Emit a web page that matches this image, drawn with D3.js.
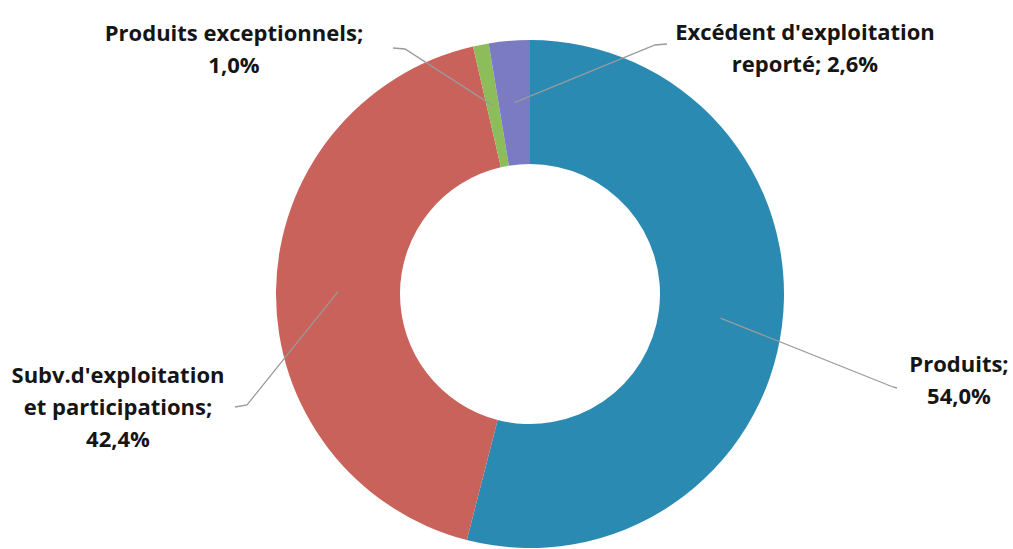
<!DOCTYPE html>
<html lang="fr">
<head>
<meta charset="utf-8">
<title>produits</title>
<script src="https://cdn.jsdelivr.net/npm/d3@7"></script>
<style>
  body{margin:0;background:#fff;}
  text{font-family:"Open Sans",sans-serif;font-weight:bold;fill:#151515;}
</style>
</head>
<body>
<div id="chart"></div>
<script>
// data, clockwise from 12 o'clock
var names = ["Produits", "Subv.d'exploitation et participations", "Produits exceptionnels", "Excédent d'exploitation reporté"]
var values = [54.0, 42.4, 1.0, 2.6]
var valueLabels = ["54,0%", "42,4%", "1,0%", "2,6%"]
var labelLines = [
  ["Produits;", "54,0%"],
  ["Subv.d'exploitation", "et participations;", "42,4%"],
  ["Produits exceptionnels;", "1,0%"],
  ["Excédent d'exploitation", "reporté; 2,6%"]
]
var colors = ["#2a8ab2", "#c9625b", "#8dbd5a", "#7b7bc3"]

var w = 1013, h = 549
var cx = 530, cy = 294
var outerR = 254, innerR = 130

// label layout: text centre x, first baseline y, and leader start / elbow
var labelPos = [
  {x:959, y:372, start:[897,388], elbow:[893,387]},
  {x:118, y:383, start:[235,407], elbow:[247,405]},
  {x:234, y:41, start:[393,48], elbow:[405,49]},
  {x:805, y:40, start:[667,44], elbow:[655,45]}
]

var svg = d3.select("#chart").append("svg").attr("width", w).attr("height", h)
var g = svg.append("g").attr("transform", "translate(" + cx + "," + cy + ")")

var pie = d3.pie().sort(null).value(function(d){ return d })
var arcs = pie(values)
var arc = d3.arc().innerRadius(innerR).outerRadius(outerR)
var mid = d3.arc().innerRadius(192).outerRadius(192)

g.selectAll("path.slice")
  .data(arcs)
  .enter()
  .append("path")
  .attr("class", "slice")
  .attr("d", arc)
  .attr("fill", function(d, i){ return colors[i] })

// leader lines
svg.selectAll("polyline")
  .data(arcs)
  .enter()
  .append("polyline")
  .attr("points", function(d, i){
    var c = mid.centroid(d)
    var p = labelPos[i]
    return [p.start, p.elbow, [c[0] + cx, c[1] + cy]].map(function(q){ return q.join(",") }).join(" ")
  })
  .attr("fill", "none")
  .attr("stroke", "#9a9a9a")
  .attr("stroke-width", 1.3)

// labels
var lab = svg.selectAll("text.lab")
  .data(labelLines)
  .enter()
  .append("text")
  .attr("class", "lab")
  .attr("text-anchor", "middle")
  .style("font-size", "22px")

lab.selectAll("tspan")
  .data(function(d, i){ return d.map(function(t){ return {t:t, i:i} }) })
  .enter()
  .append("tspan")
  .attr("x", function(d){ return labelPos[d.i].x })
  .attr("y", function(d, j){ return labelPos[d.i].y + j * 32 })
  .text(function(d){ return d.t })
</script>
</body>
</html>
